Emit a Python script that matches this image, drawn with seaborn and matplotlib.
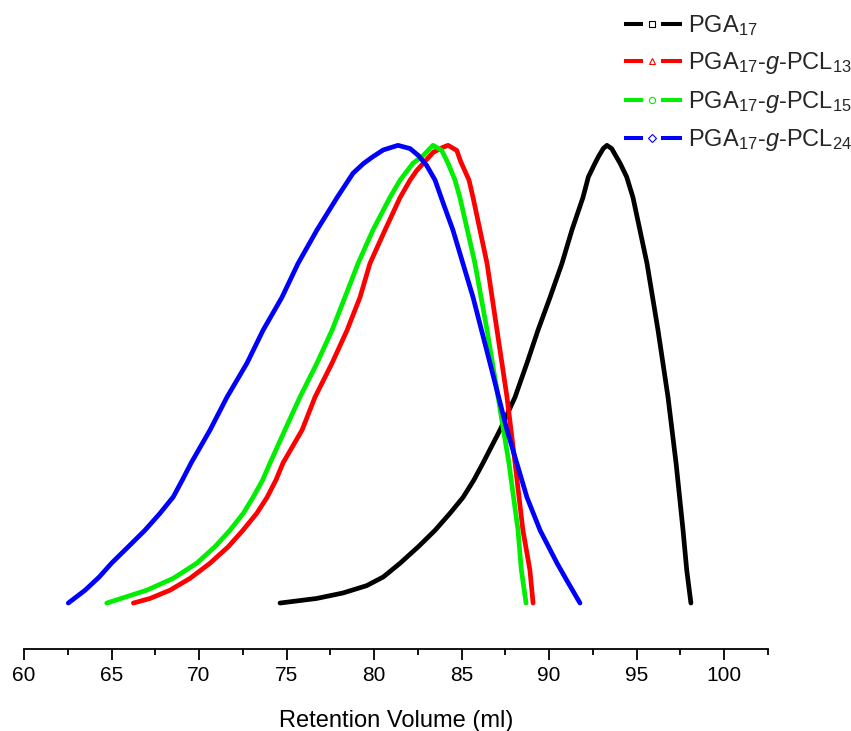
import numpy as np
import pandas as pd
import matplotlib
matplotlib.use("Agg")
import matplotlib.pyplot as plt
from matplotlib.lines import Line2D
from matplotlib.legend_handler import HandlerBase
import seaborn as sns

# ---------------- data ----------------
pga_x = [74.63, 76.72, 78.23, 79.58, 80.53, 81.49, 82.53, 83.49, 84.34, 85.09,
         85.71, 86.23, 87.20, 88.06, 88.74, 89.37, 90.06, 90.74, 91.31, 91.94,
         92.25, 92.63, 92.82, 93.10, 93.31, 93.58, 94.06, 94.44, 94.80, 95.60,
         96.23, 96.80, 97.26, 97.66, 97.87, 98.11]
pga_y = [0, 0.010, 0.022, 0.038, 0.057, 0.087, 0.123, 0.159, 0.196, 0.231,
         0.269, 0.306, 0.378, 0.450, 0.524, 0.596, 0.668, 0.742, 0.815, 0.886,
         0.931, 0.961, 0.975, 0.993, 1.0, 0.993, 0.961, 0.931, 0.886, 0.742,
         0.596, 0.450, 0.306, 0.159, 0.072, 0]

pcl13_x = [66.25, 67.20, 68.34, 69.49, 70.63, 71.67, 72.51, 73.30, 73.89, 74.40,
           74.80, 75.89, 76.63, 77.60, 78.46, 79.20, 79.77, 80.63, 81.49, 82.06,
           82.44, 83.39, 83.96, 84.23, 84.73, 84.95, 85.43, 85.66, 86.46, 87.03,
           87.60, 88.06, 88.51, 88.91, 89.09]
pcl13_y = [0, 0.010, 0.028, 0.054, 0.087, 0.123, 0.159, 0.196, 0.231, 0.269,
           0.306, 0.378, 0.450, 0.524, 0.596, 0.668, 0.742, 0.815, 0.886, 0.924,
           0.945, 0.985, 0.996, 1.0, 0.989, 0.965, 0.924, 0.886, 0.742, 0.596,
           0.450, 0.306, 0.159, 0.072, 0]

pcl15_x = [64.73, 65.87, 67.01, 68.53, 69.87, 70.91, 71.77, 72.53, 73.09, 73.64,
           74.06, 74.91, 75.77, 76.74, 77.60, 78.34, 79.09, 79.94, 80.91, 81.49,
           82.23, 82.82, 83.37, 83.87, 84.23, 84.63, 84.91, 85.77, 86.46, 87.09,
           87.71, 88.23, 88.42, 88.69]
pcl15_y = [0, 0.014, 0.028, 0.054, 0.087, 0.123, 0.159, 0.196, 0.231, 0.269,
           0.306, 0.378, 0.450, 0.524, 0.596, 0.668, 0.742, 0.815, 0.886, 0.924,
           0.961, 0.978, 1.0, 0.989, 0.961, 0.924, 0.886, 0.742, 0.596, 0.450,
           0.306, 0.159, 0.072, 0]

pcl24_x = [62.53, 63.49, 64.30, 65.00, 65.96, 66.91, 67.77, 68.53, 69.05, 69.55,
           70.63, 71.60, 72.74, 73.66, 74.74, 75.66, 76.74, 77.89, 78.80, 79.39,
           79.89, 80.53, 81.37, 82.06, 82.53, 83.01, 83.49, 83.96, 84.51, 85.66,
           86.63, 87.60, 88.74, 89.49, 90.46, 91.01, 91.77]
pcl24_y = [0, 0.028, 0.057, 0.087, 0.123, 0.159, 0.196, 0.232, 0.269, 0.306,
           0.378, 0.450, 0.524, 0.596, 0.668, 0.742, 0.815, 0.886, 0.939, 0.960,
           0.974, 0.990, 1.0, 0.993, 0.978, 0.956, 0.924, 0.873, 0.815, 0.668,
           0.524, 0.378, 0.231, 0.159, 0.087, 0.050, 0]

labels = [r"PGA$_{17}$",
          r"PGA$_{17}$-$\mathit{g}$-PCL$_{13}$",
          r"PGA$_{17}$-$\mathit{g}$-PCL$_{15}$",
          r"PGA$_{17}$-$\mathit{g}$-PCL$_{24}$"]
colors = ["#000000", "#ff0000", "#00ee00", "#0000ff"]
markers = ["s", "^", "o", "D"]
xlabel = "Retention Volume (ml)"
xticks = [60, 65, 70, 75, 80, 85, 90, 95, 100]

# ---------------- build table ----------------
frames = []
for lab, xs, ys in zip(labels,
                       [pga_x, pcl13_x, pcl15_x, pcl24_x],
                       [pga_y, pcl13_y, pcl15_y, pcl24_y]):
    frames.append(pd.DataFrame({"x": xs, "y": ys, "series": lab}))
df = pd.concat(frames, ignore_index=True)

# ---------------- style ----------------
sns.set_theme(style="white")
plt.rcParams["font.family"] = ["Liberation Sans", "DejaVu Sans"]
plt.rcParams["mathtext.fontset"] = "custom"
plt.rcParams["mathtext.rm"] = "Liberation Sans"
plt.rcParams["mathtext.it"] = "Liberation Sans:italic"
plt.rcParams["mathtext.bf"] = "Liberation Sans:bold"

fig = plt.figure(figsize=(8.51, 7.31), dpi=100)
ax = fig.add_axes([24 / 851, 0.1118, (767.75 - 24) / 851, 0.989 - 0.1118])

sns.lineplot(data=df, x="x", y="y", hue="series", hue_order=labels,
             palette=dict(zip(labels, colors)), sort=False, estimator=None,
             linewidth=3.4, legend=False, ax=ax)
for ln in ax.get_lines():
    ln.set_solid_joinstyle("round")
    ln.set_solid_capstyle("round")

ax.set_xlim(60, 102.5)
ax.set_ylim(-0.101, 1.3)
ax.set_xticks(xticks)
ax.set_xticks(np.arange(62.5, 102.6, 5), minor=True)
ax.set_yticks([])
for s in ["top", "right", "left"]:
    ax.spines[s].set_visible(False)
ax.spines["bottom"].set_color("black")
ax.spines["bottom"].set_linewidth(1.3)
ax.tick_params(axis="x", which="major", direction="out", length=8, width=1.3,
               colors="black", labelsize=15, pad=4, bottom=True)
ax.tick_params(axis="x", which="minor", direction="out", length=4.3, width=1.3,
               colors="black", bottom=True)
ax.set_xlabel(xlabel, fontsize=17, labelpad=18, color="black")
ax.set_ylabel("")
ax.set_facecolor("white")


class SplitLineHandler(HandlerBase):
    """Origin-style legend symbol: line segment, marker, line segment."""
    def create_artists(self, legend, orig_handle, xdescent, ydescent,
                       width, height, fontsize, trans):
        c = orig_handle.get_color()
        y = height / 2.0 - ydescent
        x0 = -xdescent
        l1 = Line2D([x0, x0 + 0.33 * width], [y, y], color=c, linewidth=2.9,
                    solid_capstyle="butt")
        l2 = Line2D([x0 + 0.64 * width, x0 + width], [y, y], color=c,
                    linewidth=2.9, solid_capstyle="butt")
        mk = Line2D([x0 + 0.485 * width], [y], linestyle="none",
                    marker=orig_handle.get_marker(), markersize=4.5,
                    markerfacecolor="none", markeredgecolor=c,
                    markeredgewidth=0.8)
        for a in (l1, l2, mk):
            a.set_transform(trans)
        return [l1, l2, mk]


handles = [Line2D([0], [0], color=c, marker=m) for c, m in zip(colors, markers)]
leg = fig.legend(handles, labels, loc="upper left",
                 bbox_to_anchor=(624 / 851, 1 - 13 / 731),
                 frameon=False, fontsize=17, handlelength=2.44,
                 handletextpad=0.27, labelspacing=0.53, borderpad=0,
                 borderaxespad=0,
                 handler_map={Line2D: SplitLineHandler()})

fig.savefig("out.png", dpi=100, facecolor="white")
